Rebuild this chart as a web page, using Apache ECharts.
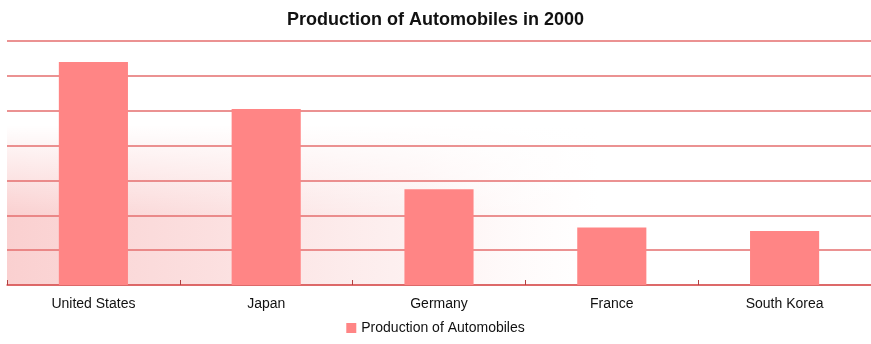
<!DOCTYPE html>
<html>
<head>
<meta charset="utf-8">
<title>Production of Automobiles in 2000</title>
<script src="https://cdn.jsdelivr.net/npm/echarts@6/dist/echarts.min.js"></script>
<style>
  html, body { margin: 0; padding: 0; background: #ffffff; }
  #chart { width: 871px; height: 344px; }
</style>
</head>
<body>
<div id="chart"></div>
<script>
// Vehicles produced in 2000, millions
const countries = ['United States', 'Japan', 'Germany', 'France', 'South Korea'];
const production = [12.8, 10.1, 5.5, 3.3, 3.1];
const seriesName = 'Production of Automobiles';

const chart = echarts.init(document.getElementById('chart'), null, { renderer: 'canvas' });

const gridLeft = 7, gridTop = 41, gridBottom = 59;
const plotBottom = 344 - gridBottom;

chart.setOption({
  animation: false,
  backgroundColor: '#ffffff',
  title: {
    text: 'Production of Automobiles in 2000',
    left: 'center',
    top: 6,
    textStyle: { fontFamily: 'Liberation Sans, Arial, sans-serif', fontSize: 18, fontWeight: 'bold', color: '#111' }
  },
  // soft pink wash in the lower-left part of the plot:
  // a horizontal fade, then a white veil that softens its top edge
  graphic: [{
    type: 'rect',
    z: -10,
    silent: true,
    shape: { x: gridLeft, y: 110, width: 871 - gridLeft, height: plotBottom - 110 },
    style: {
      fill: {
        type: 'linear', global: true,
        x: gridLeft, y: 0, x2: 600, y2: 0,
        colorStops: [
          { offset: 0, color: 'rgba(250,208,208,1)' },
          { offset: 0.35, color: 'rgba(251,220,220,0.9)' },
          { offset: 0.7, color: 'rgba(252,232,232,0.6)' },
          { offset: 1, color: 'rgba(255,245,245,0)' }
        ]
      }
    }
  }, {
    type: 'rect',
    z: -9,
    silent: true,
    shape: { x: gridLeft, y: 105, width: 871 - gridLeft, height: 110 },
    style: {
      fill: {
        type: 'linear', global: true,
        x: 0, y: 125, x2: 0, y2: 215,
        colorStops: [
          { offset: 0, color: 'rgba(255,255,255,1)' },
          { offset: 1, color: 'rgba(255,255,255,0)' }
        ]
      }
    }
  }],
  legend: {
    bottom: 4,
    left: 'center',
    itemWidth: 10,
    itemHeight: 10,
    itemGap: 6,
    icon: 'rect',
    textStyle: { fontFamily: 'Liberation Sans, Arial, sans-serif', fontSize: 14, color: '#111' },
    data: [seriesName]
  },
  grid: { left: gridLeft, right: 0, top: gridTop, bottom: gridBottom, containLabel: false },
  xAxis: {
    type: 'category',
    data: countries,
    boundaryGap: true,
    axisLine: { lineStyle: { color: '#d95c5c', width: 1.5 } },
    axisTick: { show: true, inside: true, length: 5, lineStyle: { color: '#b04040' } },
    axisLabel: { margin: 12, fontFamily: 'Liberation Sans, Arial, sans-serif', fontSize: 14, color: '#111' }
  },
  yAxis: {
    type: 'value',
    min: 0,
    max: 14,
    interval: 2,
    axisLine: { show: false },
    axisTick: { show: false },
    axisLabel: { show: false },
    splitLine: { show: true, lineStyle: { color: '#e46e6e', width: 1.5 } }
  },
  series: [{
    name: seriesName,
    type: 'bar',
    data: production,
    barWidth: '40%',
    itemStyle: { color: '#ff8585' }
  }]
});
</script>
</body>
</html>
